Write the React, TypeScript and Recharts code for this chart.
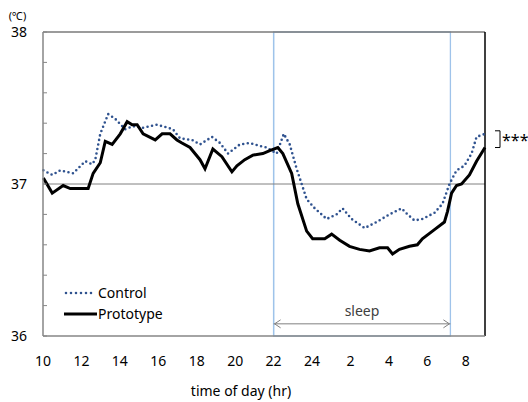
import { LineChart, Line, XAxis, YAxis, ReferenceLine, ReferenceArea, Legend } from 'recharts'

// hours counted continuously from 10:00 (26 = 2:00 next day)
const controlHours = [
  10.02, 10.48, 10.9, 11.57, 12.2, 12.56, 12.72, 12.98, 13.39, 13.75, 14.27, 14.69, 15.21, 15.93,
  16.5, 16.76, 17.13, 17.75, 18.17, 18.79, 19.21, 19.63, 20.24, 20.76, 21.28, 21.65, 22.16, 22.53,
  22.84, 23.2, 23.46, 23.72, 24.14, 24.76, 25.28, 25.59, 26.06, 26.74, 27.36, 28.03, 28.66, 28.97,
  29.33, 29.75, 30.37, 30.79, 31.15, 31.52, 31.93, 32.3, 32.56, 33,
]
const controlTemps = [
  37.09, 37.06, 37.09, 37.07, 37.15, 37.13, 37.16, 37.33, 37.46, 37.43, 37.36, 37.38, 37.37, 37.39,
  37.37, 37.36, 37.3, 37.29, 37.26, 37.31, 37.27, 37.2, 37.26, 37.27, 37.25, 37.24, 37.2, 37.33,
  37.26, 37.1, 37.0, 36.9, 36.84, 36.77, 36.8, 36.84, 36.77, 36.71, 36.75, 36.8, 36.84, 36.8,
  36.76, 36.77, 36.81, 36.87, 37.0, 37.09, 37.12, 37.2, 37.31, 37.33,
]
const protoHours = [
  10.02, 10.48, 11.05, 11.42, 11.94, 12.35, 12.61, 12.98, 13.24, 13.6, 14.02, 14.38, 14.64, 14.9,
  15.21, 15.84, 16.2, 16.61, 16.97, 17.23, 17.65, 18.17, 18.43, 18.84, 19.31, 19.83, 20.09, 20.5,
  20.92, 21.44, 21.8, 22.22, 22.48, 22.94, 23.26, 23.72, 24.03, 24.66, 25.02, 25.44, 25.95, 26.47,
  26.99, 27.51, 27.93, 28.19, 28.55, 29.07, 29.48, 29.74, 30.37, 30.89, 31.05, 31.26, 31.52, 31.78,
  32.19, 32.56, 33,
]
const protoTemps = [
  37.04, 36.94, 36.99, 36.97, 36.97, 36.97, 37.07, 37.14, 37.28, 37.26, 37.33, 37.41, 37.39, 37.39,
  37.33, 37.29, 37.33, 37.33, 37.29, 37.27, 37.24, 37.16, 37.1, 37.23, 37.18, 37.08, 37.12, 37.16,
  37.19, 37.2, 37.22, 37.24, 37.2, 37.07, 36.87, 36.69, 36.64, 36.64, 36.67, 36.63, 36.59, 36.57,
  36.56, 36.58, 36.58, 36.54, 36.57, 36.59, 36.6, 36.64, 36.7, 36.75, 36.82, 36.94, 36.99, 37.0,
  37.06, 37.15, 37.24,
]

const hourTicks = [10, 12, 14, 16, 18, 20, 22, 24, 26, 28, 30, 32]
const tempTicks = [36, 36.2, 36.4, 36.6, 36.8, 37, 37.2, 37.4, 37.6, 37.8, 38]
const sleepStart = 22
const sleepEnd = 31.2
const sleepArrowTemp = 36.08
const bracketTemps = [37.35, 37.24]

const controlData = controlHours.map((hour, i) => ({ hour, temp: controlTemps[i] }))
const protoData = protoHours.map((hour, i) => ({ hour, temp: protoTemps[i] }))

const FONT = '"Noto Sans", sans-serif'
const NAVY = '#2f528f'
const SLEEP_BLUE = '#9fc3ea'

function SleepArrow(p: any) {
  const { x1, y1, x2 } = p
  return (
    <g>
      <line x1={x1} y1={y1} x2={x2} y2={y1} stroke="#808080" strokeWidth={1} />
      <polyline points={`${x1 + 7},${y1 - 4} ${x1 + 1},${y1} ${x1 + 7},${y1 + 4}`} fill="none" stroke="#808080" />
      <polyline points={`${x2 - 7},${y1 - 4} ${x2 - 1},${y1} ${x2 - 7},${y1 + 4}`} fill="none" stroke="#808080" />
      <text x={(x1 + x2) / 2} y={y1 - 8} textAnchor="middle" fontSize={14} fill="#404040" fontFamily={FONT}>
        sleep
      </text>
    </g>
  )
}

function SigBracket(p: any) {
  const { x1, y1, y2 } = p
  const bx = x1 + 15
  return (
    <g>
      <path d={`M${bx - 5},${y1} H${bx} V${y2} H${bx - 5}`} fill="none" stroke="#000" strokeWidth={1} />
      <text x={bx + 2} y={(y1 + y2) / 2 + 7} fontSize={16} fill="#000" fontFamily={FONT}>
        ***
      </text>
    </g>
  )
}

function LegendBox() {
  const row = { display: 'flex', alignItems: 'center', height: 21 }
  return (
    <div style={{ fontFamily: FONT, fontSize: 14, color: '#000' }}>
      <div style={row}>
        <svg width={34} height={8}>
          <line x1={2} y1={4} x2={31} y2={4} stroke={NAVY} strokeWidth={2.6} strokeDasharray="0 5" strokeLinecap="round" />
        </svg>
        <span>Control</span>
      </div>
      <div style={row}>
        <svg width={34} height={8}>
          <line x1={0} y1={4} x2={33} y2={4} stroke="#000" strokeWidth={3} />
        </svg>
        <span>Prototype</span>
      </div>
    </div>
  )
}

export default function App() {
  return (
    <div>
      <style>{'body{margin:0}'}</style>
      <LineChart width={528} height={402} margin={{ top: 32, right: 43, bottom: 0, left: 0 }} style={{ fontFamily: FONT }}>
        <XAxis
          dataKey="hour"
          type="number"
          domain={[10, 33]}
          ticks={hourTicks}
          interval={0}
          allowDuplicatedCategory={false}
          tickFormatter={(v: number) => String(v > 24 ? v - 24 : v)}
          tick={{ fontSize: 14, fill: '#000' }}
          tickLine={false}
          tickSize={0}
          tickMargin={20}
          height={66}
          axisLine={{ stroke: '#868686', strokeWidth: 1.5 }}
          label={{ value: 'time of day (hr)', position: 'insideBottom', offset: 6, dx: -23, fontSize: 14, fill: '#000' }}
        />
        <YAxis
          type="number"
          domain={[36, 38]}
          ticks={tempTicks}
          interval={0}
          width={43}
          tickFormatter={(v: number) => (Number.isInteger(v) ? String(v) : '')}
          tick={{ fontSize: 14, fill: '#000' }}
          tickSize={-4}
          tickMargin={20}
          tickLine={{ stroke: '#868686' }}
          axisLine={{ stroke: '#868686', strokeWidth: 1.5 }}
          label={{ value: '(℃)', position: 'top', offset: 12, dx: -4, fontSize: 11, fill: '#000' }}
        />
        <ReferenceArea x1={sleepStart} x2={sleepEnd} y1={36} y2={38} fill="none" stroke={SLEEP_BLUE} strokeWidth={1.3} ifOverflow="visible" />
        <ReferenceLine x={sleepStart} stroke={SLEEP_BLUE} strokeWidth={1.3} />
        <ReferenceLine y={37} stroke="#808080" strokeWidth={1} />
        <ReferenceLine y={38} stroke="#7a7a7a" strokeWidth={1.5} />
        <ReferenceLine x={33} stroke="#000" strokeWidth={1.5} />
        <ReferenceLine
          segment={[{ x: sleepStart, y: sleepArrowTemp }, { x: sleepEnd, y: sleepArrowTemp }]}
          shape={SleepArrow}
        />
        <ReferenceLine
          segment={[{ x: 33, y: bracketTemps[0] }, { x: 33, y: bracketTemps[1] }]}
          shape={SigBracket}
          ifOverflow="visible"
        />
        <Line
          data={controlData}
          dataKey="temp"
          name="Control"
          type="linear"
          stroke={NAVY}
          strokeWidth={2.6}
          strokeDasharray="0 4.6"
          strokeLinecap="round"
          dot={false}
          isAnimationActive={false}
        />
        <Line
          data={protoData}
          dataKey="temp"
          name="Prototype"
          type="linear"
          stroke="#000"
          strokeWidth={3}
          dot={false}
          isAnimationActive={false}
        />
        <Legend
          layout="horizontal"
          verticalAlign="middle"
          align="center"
          content={<LegendBox />}
          wrapperStyle={{ left: 64, top: 282, width: 'auto', height: 'auto' }}
        />
      </LineChart>
    </div>
  )
}
